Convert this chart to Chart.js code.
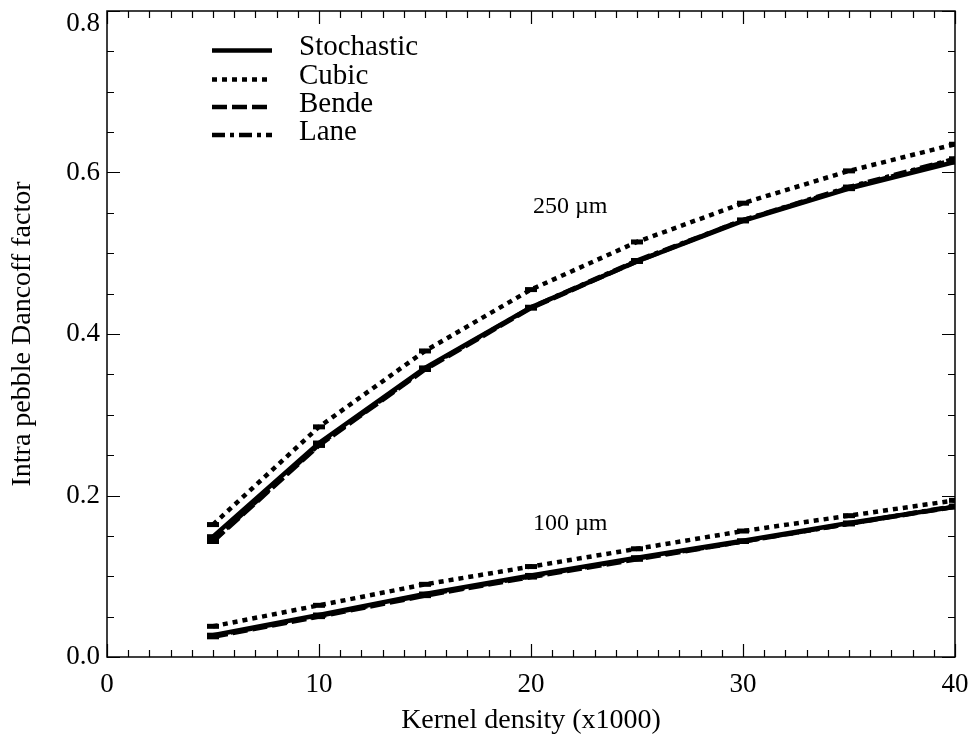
<!DOCTYPE html>
<html>
<head>
<meta charset="utf-8">
<script src="https://cdn.jsdelivr.net/npm/chart.js@4/dist/chart.umd.min.js"></script>
<style>
html,body{margin:0;padding:0;background:#fff;}
canvas{display:block;}
</style>
</head>
<body>
<canvas id="c" width="974" height="740"></canvas>
<script>
// ---- data ----
const kernelDensity = [5, 10, 15, 20, 25, 30, 35, 40];
const seriesNames = ['Stochastic', 'Cubic', 'Bende', 'Lane'];

const stochastic250 = [0.149, 0.265, 0.358, 0.433, 0.490, 0.540, 0.580, 0.613];
const cubic250      = [0.164, 0.285, 0.379, 0.455, 0.514, 0.562, 0.602, 0.635];
const bende250      = [0.143, 0.262, 0.356, 0.432, 0.490, 0.541, 0.581, 0.616];
const lane250       = [0.144, 0.263, 0.357, 0.433, 0.491, 0.541, 0.582, 0.617];

const stochastic100 = [0.027, 0.052, 0.078, 0.101, 0.123, 0.144, 0.166, 0.186];
const cubic100      = [0.038, 0.064, 0.090, 0.112, 0.134, 0.156, 0.175, 0.194];
const bende100      = [0.025, 0.050, 0.076, 0.099, 0.121, 0.143, 0.165, 0.186];
const lane100       = [0.026, 0.051, 0.077, 0.100, 0.122, 0.143, 0.165, 0.187];

const xTicks = [0, 10, 20, 30, 40];
const yTicks = [0.0, 0.2, 0.4, 0.6, 0.8];
const sizeLabels = ['250 \u00b5m', '100 \u00b5m'];
const xTitle = 'Kernel density (x1000)';
const yTitle = 'Intra pebble Dancoff factor';

// ---- styles ----
const dashes = {
  Stochastic: [],
  Cubic: [5, 5],
  Bende: [15, 5],
  Lane: [13, 5, 4, 5]
};
const SERIF = '"Liberation Serif", "Times New Roman", serif';

function toPoints(vals) { return kernelDensity.map((x, i) => ({x: x, y: vals[i]})); }

function ds(name, vals, inLegend) {
  return {
    label: name,
    data: toPoints(vals),
    borderColor: '#000',
    backgroundColor: '#000',
    borderWidth: 4.5,
    borderDash: dashes[name],
    pointStyle: 'line',
    pointRadius: 6,
    pointBorderWidth: 5,
    pointHoverRadius: 6,
    tension: 0,
    fill: false,
    inLegend: inLegend
  };
}

const datasets = [
  ds('Stochastic', stochastic250, true),
  ds('Cubic', cubic250, true),
  ds('Bende', bende250, true),
  ds('Lane', lane250, true),
  ds('Stochastic', stochastic100, false),
  ds('Cubic', cubic100, false),
  ds('Bende', bende100, false),
  ds('Lane', lane100, false)
];

// frame + inward ticks on all four sides
const framePlugin = {
  id: 'frameTicks',
  afterDatasetsDraw(chart) {
    const {ctx, chartArea: a, scales: {x, y}} = chart;
    ctx.save();
    ctx.strokeStyle = '#000';
    ctx.lineWidth = 1.5;
    ctx.strokeRect(a.left, a.top, a.right - a.left, a.bottom - a.top);
    ctx.lineWidth = 1.2;
    ctx.beginPath();
    for (let v = 0; v <= 40; v += 1) {
      const px = Math.round(x.getPixelForValue(v)) + 0.5;
      const len = (v % 10 === 0) ? 13 : 7;
      ctx.moveTo(px, a.bottom); ctx.lineTo(px, a.bottom - len);
      ctx.moveTo(px, a.top); ctx.lineTo(px, a.top + len);
    }
    for (let k = 0; k <= 16; k++) {
      const v = k * 0.05;
      const py = Math.round(y.getPixelForValue(v)) + 0.5;
      const len = (k % 4 === 0) ? 13 : 7;
      ctx.moveTo(a.left, py); ctx.lineTo(a.left + len, py);
      ctx.moveTo(a.right, py); ctx.lineTo(a.right - len, py);
    }
    ctx.stroke();
    ctx.restore();
  }
};

// in-plot legend and curve labels
const legendPlugin = {
  id: 'plotLegend',
  afterDraw(chart) {
    const {ctx, scales: {x, y}} = chart;
    ctx.save();
    const items = chart.data.datasets.filter(d => d.inLegend);
    const x0 = 212, x1 = 272, tx = 299;
    const ys = [50.5, 79.5, 107, 135];
    items.forEach((d, i) => {
      ctx.strokeStyle = '#000';
      ctx.lineWidth = 4.5;
      ctx.setLineDash(d.borderDash);
      ctx.beginPath();
      ctx.moveTo(x0, ys[i]);
      ctx.lineTo(x1, ys[i]);
      ctx.stroke();
      ctx.setLineDash([]);
      ctx.fillStyle = '#000';
      ctx.font = '29px ' + SERIF;
      ctx.textAlign = 'left';
      ctx.textBaseline = 'alphabetic';
      ctx.fillText(d.label, tx, ys[i] + 4.5);
    });
    // size annotations placed in data coordinates
    ctx.font = '24px ' + SERIF;
    ctx.textAlign = 'center';
    ctx.textBaseline = 'middle';
    ctx.fillText(sizeLabels[0], x.getPixelForValue(21.85), y.getPixelForValue(0.558));
    ctx.fillText(sizeLabels[1], x.getPixelForValue(21.85), y.getPixelForValue(0.165));
    ctx.restore();
  }
};

const yMax = yTicks[yTicks.length - 1];

new Chart(document.getElementById('c'), {
  type: 'line',
  data: { datasets: datasets },
  options: {
    responsive: false,
    devicePixelRatio: 1,
    animation: false,
    layout: { padding: { top: 10, right: 19, left: 0, bottom: 0 } },
    plugins: {
      legend: { display: false },
      tooltip: { enabled: false },
      title: { display: false }
    },
    scales: {
      x: {
        type: 'linear',
        min: 0, max: 40,
        afterBuildTicks(s) { s.ticks = xTicks.map(v => ({value: v})); },
        afterFit(s) { s.height = 83; s.paddingLeft = 0; s.paddingRight = 0; },
        grid: { display: false, drawTicks: false },
        border: { display: false },
        ticks: {
          color: '#000',
          font: { family: SERIF, size: 27 },
          padding: 12,
          maxRotation: 0,
          callback: v => String(v)
        },
        title: {
          display: true,
          text: xTitle,
          color: '#000',
          font: { family: SERIF, size: 28 },
          padding: { top: 0, bottom: 3 }
        }
      },
      y: {
        type: 'linear',
        min: 0, max: 0.8,
        afterBuildTicks(s) { s.ticks = yTicks.map(v => ({value: v})); },
        afterFit(s) { s.width = 107; s.paddingTop = 0; s.paddingBottom = 0; },
        grid: { display: false, drawTicks: false },
        border: { display: false },
        ticks: {
          color: '#000',
          font: { family: SERIF, size: 27, lineHeight: 0.93 },
          padding: 7,
          callback: v => (Math.abs(v - yMax) < 1e-9) ? [' ', Number(v).toFixed(1)] : Number(v).toFixed(1)
        },
        title: {
          display: true,
          text: yTitle,
          color: '#000',
          font: { family: SERIF, size: 28 },
          padding: { top: 6, bottom: 0 }
        }
      }
    }
  },
  plugins: [framePlugin, legendPlugin]
});
</script>
</body>
</html>
